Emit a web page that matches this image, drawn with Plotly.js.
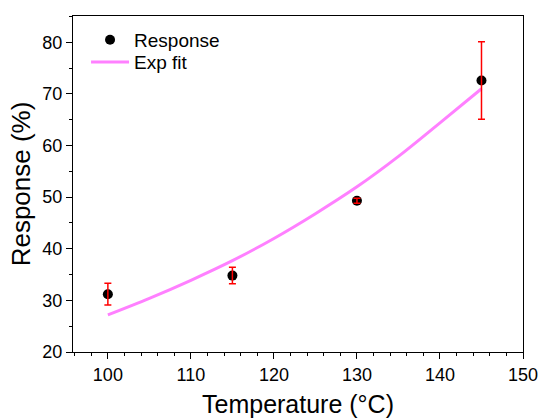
<!DOCTYPE html>
<html>
<head>
<meta charset="utf-8">
<script src="https://cdn.plot.ly/plotly-3.0.1.min.js"></script>
<style>
  html, body { margin: 0; padding: 0; background: #fff; }
  #chart { width: 542px; height: 419px; }
</style>
</head>
<body>
<div id="chart"></div>
<script>
// Measured response at each operating temperature
const temperature = [100, 115, 130, 145];
const response = [31.2, 34.8, 49.3, 72.6];
const responseErr = [2.1, 1.6, 0.5, 7.5];

// Exponential fit curve, sampled along the temperature range
const fitTemperature = [100, 105, 110, 115, 120, 125, 130, 135, 140, 145];
const fitResponse = [27.2, 30.4, 33.9, 37.7, 42.0, 46.8, 52.0, 57.9, 64.4, 71.0];

const FONT = 'Liberation Sans, Arial, sans-serif';

const fitTrace = {
  x: fitTemperature,
  y: fitResponse,
  type: 'scatter',
  mode: 'lines',
  name: 'Exp fit',
  legend: 'legend2',
  line: { color: '#ff80ff', width: 3, shape: 'spline' },
  hoverinfo: 'skip'
};

const dataTrace = {
  x: temperature,
  y: response,
  type: 'scatter',
  mode: 'markers',
  name: 'Response',
  legend: 'legend',
  marker: { color: '#000', size: 10, symbol: 'circle' }
};

// Error bars drawn on top of the markers
const errTrace = {
  x: temperature,
  y: response,
  type: 'scatter',
  mode: 'markers',
  marker: { color: 'rgba(0,0,0,0)', size: 1 },
  error_y: { type: 'data', array: responseErr, visible: true, color: '#ff0000', thickness: 1.5, width: 3.5 },
  showlegend: false,
  hoverinfo: 'skip'
};

const legendStyle = {
  xanchor: 'left', yanchor: 'middle',
  bgcolor: 'rgba(0,0,0,0)',
  itemwidth: 38,
  font: { family: FONT, size: 19, color: '#000' }
};

const layout = {
  width: 542,
  height: 419,
  margin: { l: 73, r: 19, t: 16, b: 67 },
  paper_bgcolor: '#fff',
  plot_bgcolor: '#fff',
  font: { family: FONT, color: '#000', size: 18 },
  showlegend: true,
  legend: Object.assign({ x: 0.029, y: 0.929 }, legendStyle),
  legend2: Object.assign({ x: 0.029, y: 0.863 }, legendStyle),
  xaxis: {
    range: [95.8, 150],
    tickmode: 'linear', tick0: 100, dtick: 10,
    ticks: 'outside', ticklen: 6, tickwidth: 1, tickcolor: '#000',
    minor: { tick0: 100, dtick: 2, ticks: 'outside', ticklen: 3, tickcolor: '#000', showgrid: false },
    showline: true, linecolor: '#000', linewidth: 1.2, mirror: true,
    showgrid: false, zeroline: false,
    tickfont: { family: FONT, size: 18, color: '#000' },
    title: { text: 'Temperature (°C)', font: { family: FONT, size: 25, color: '#000' }, standoff: 11 }
  },
  yaxis: {
    range: [20, 85.1],
    tickmode: 'linear', tick0: 20, dtick: 10,
    ticks: 'outside', ticklen: 6, tickwidth: 1, tickcolor: '#000',
    minor: { tick0: 20, dtick: 5, ticks: 'outside', ticklen: 3, tickcolor: '#000', showgrid: false },
    showline: true, linecolor: '#000', linewidth: 1.2, mirror: true,
    showgrid: false, zeroline: false,
    tickfont: { family: FONT, size: 18, color: '#000' },
    title: { text: 'Response (%)', font: { family: FONT, size: 26, color: '#000' }, standoff: 4 }
  }
};

Plotly.newPlot('chart', [fitTrace, dataTrace, errTrace], layout, { displayModeBar: false, staticPlot: true });
</script>
</body>
</html>
